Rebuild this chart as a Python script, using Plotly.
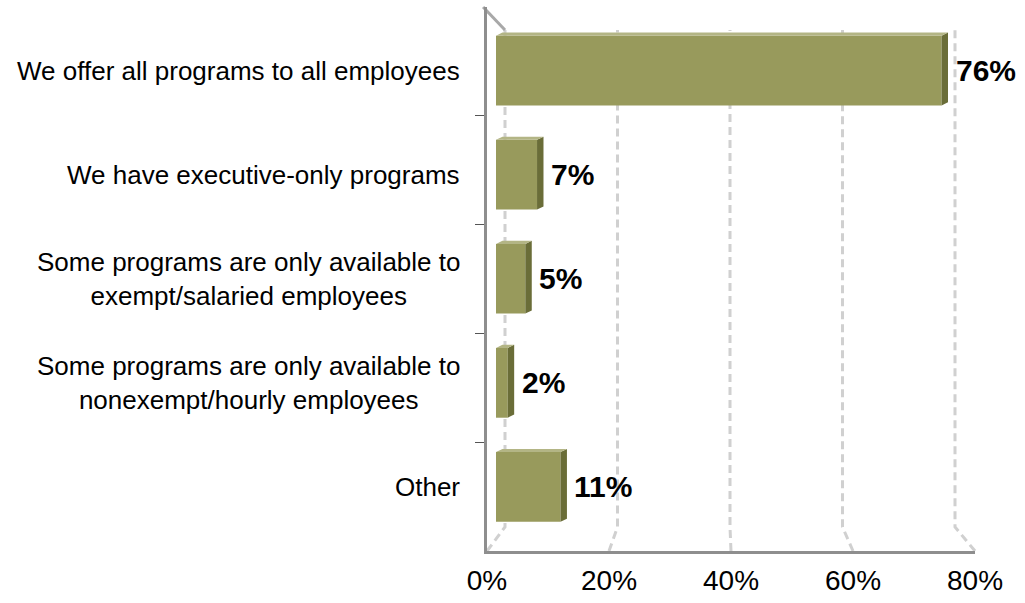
import plotly.graph_objects as go

# Survey responses: availability of programs across employee groups
categories = [
    "We offer all programs to all employees",
    "We have executive-only programs",
    "Some programs are only available to<br>exempt/salaried employees",
    "Some programs are only available to<br>nonexempt/hourly employees",
    "Other",
]
values = [76, 7, 5, 2, 11]
tick_values = [0, 20, 40, 60, 80]
tick_labels = ["0%", "20%", "40%", "60%", "80%"]

W, H = 1025, 603
ML, MR, MT, MB = 487, 50, 7, 52
plot_w = W - ML - MR
plot_h = H - MT - MB

FRONT = "#989a5c"
SIDE = "#6a6d38"
TOP = "#b3b585"
AXIS = "#8e8e8e"
GRID = "#d0d0d0"
FONT = "Liberation Sans, Arial, sans-serif"

n = len(categories)
idx = list(range(n))
bar_w = 0.67
depth_x = 1.1    # side-face depth in axis units
depth_y = 0.03   # side-face rise in category units

# pseudo-3D box: front plane (axes, ticks), back wall (gridlines),
# and the mid plane where the bars sit
back_x = [(505 - ML) / plot_w, (955 - ML) / plot_w]
back_y = [24 / plot_h, (plot_h - 23) / plot_h]
mid_x = [(back_x[0] + 0) / 2, (back_x[1] + 1) / 2]
mid_y = [(back_y[0] + 0) / 2, (back_y[1] + 1) / 2]

fig = go.Figure()
fig.add_trace(go.Bar(
    x=values, y=idx, orientation="h", width=bar_w,
    marker=dict(color=FRONT, line=dict(width=0)),
    hoverinfo="skip", showlegend=False,
))
# front plane axes carry the tick labels
fig.add_trace(go.Scatter(
    x=[None], y=[None], xaxis="x2", yaxis="y2",
    mode="markers", hoverinfo="skip", showlegend=False,
))

shapes = []

# back-wall gridlines with the floor slant toward the front axis
for v in tick_values:
    fx = v / 80
    bx = back_x[0] + (back_x[1] - back_x[0]) * v / 80
    shapes.append(dict(
        type="path", xref="paper", yref="paper", layer="below",
        path=f"M {fx},0 L {bx},{back_y[0]} L {bx},{back_y[1]}",
        line=dict(color=GRID, width=3, dash="8px,5px"),
    ))

# side wall top edge
shapes.append(dict(
    type="line", xref="paper", yref="paper", layer="below",
    x0=-0.008, y0=1.0, x1=back_x[0], y1=back_y[1],
    line=dict(color="#a8a8a8", width=3),
))

# 3D faces of each bar, derived from its value
for i, v in zip(idx, values):
    top = i - bar_w / 2
    bot = i + bar_w / 2
    shapes.append(dict(
        type="path", xref="x", yref="y", layer="above",
        path=(f"M {v},{top} L {v + depth_x},{top - depth_y} "
              f"L {v + depth_x},{bot - depth_y} L {v},{bot} Z"),
        fillcolor=SIDE, line=dict(width=0),
    ))
    shapes.append(dict(
        type="path", xref="x", yref="y", layer="above",
        path=(f"M 0,{top} L {depth_x},{top - depth_y} "
              f"L {v + depth_x},{top - depth_y} L {v},{top} Z"),
        fillcolor=TOP, line=dict(width=0),
    ))

annotations = []
for i, (c, v) in enumerate(zip(categories, values)):
    annotations.append(dict(
        x=-25 / plot_w, xref="paper", y=i, yref="y",
        text=c, showarrow=False, xanchor="right", align="center",
        font=dict(family=FONT, size=26, color="#000000"),
    ))
    annotations.append(dict(
        x=v, xref="x", y=i, yref="y", xshift=12,
        text=f"<b>{v}%</b>", showarrow=False, xanchor="left",
        font=dict(family=FONT, size=30, color="#000000"),
    ))

fig.update_layout(
    width=W, height=H, autosize=False,
    margin=dict(l=ML, r=MR, t=MT, b=MB, autoexpand=False),
    paper_bgcolor="white", plot_bgcolor="rgba(0,0,0,0)",
    xaxis=dict(
        domain=mid_x, anchor="y", range=[0, 80],
        showgrid=False, zeroline=False, showline=False,
        showticklabels=False, ticks="", automargin=False,
    ),
    yaxis=dict(
        domain=mid_y, anchor="x", range=[n - 0.5, -0.5],
        showgrid=False, zeroline=False, showline=False,
        showticklabels=False, ticks="", automargin=False,
    ),
    xaxis2=dict(
        domain=[0, 1], anchor="y2", range=[0, 80],
        tickvals=tick_values, ticktext=tick_labels,
        showgrid=False, zeroline=False, showline=True,
        linecolor=AXIS, linewidth=3, ticks="",
        tickfont=dict(family=FONT, size=28, color="#000000"),
        ticklabelstandoff=2, automargin=False,
    ),
    yaxis2=dict(
        domain=[0, 1], anchor="x2", range=[n - 0.5, -0.5],
        tickvals=[i + 0.5 for i in idx[:-1]], ticktext=[""] * (n - 1),
        showgrid=False, zeroline=False, showline=True,
        linecolor=AXIS, linewidth=3, ticks="outside", ticklen=9,
        tickcolor="#555555", tickwidth=1, automargin=False,
    ),
    shapes=shapes, annotations=annotations,
)

fig.write_html("out.html")
